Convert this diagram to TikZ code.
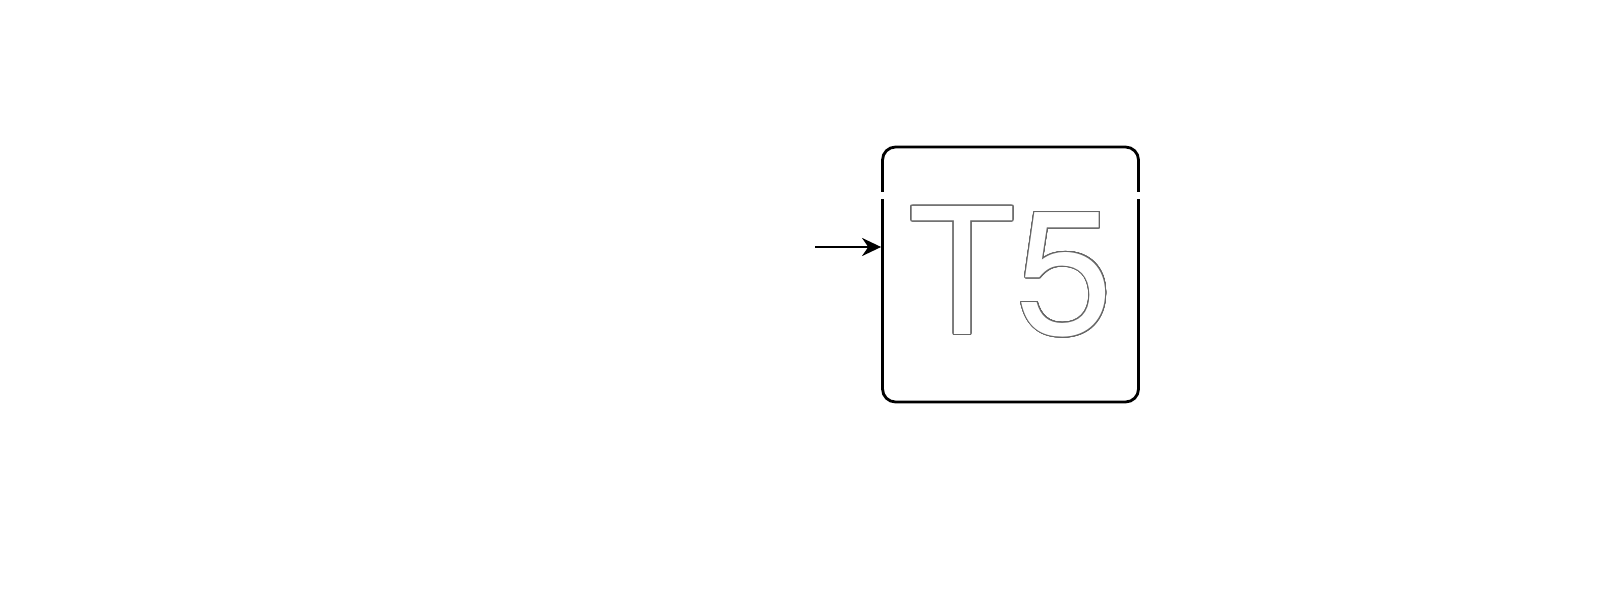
\documentclass[tikz,border=0pt]{standalone}
\usepackage{fontspec}
\setmainfont{TeX Gyre Heros}
\usepackage{contour}
\usepackage{tikz}
\usetikzlibrary{positioning,arrows,arrows.meta}
\contourlength{0.3pt}
\contournumber{32}
\tikzset{
        tbox/.style={draw=black, line width=0.8pt, rounded corners=0.13cm, fill=white, minimum width=2.56cm, minimum height=2.55cm, inner sep=0pt}, % the box round the label
        feed/.style={draw=black, line width=0.7pt, -{Stealth[length=0.19cm,width=0.18cm]}}, % the incoming arrow
}

\begin{document}
\begin{tikzpicture}
\useasboundingbox (0,0) rectangle (16,6);
\node[tbox] (t5) at (10.105,3.255) {};
\node at (10.11,3.28) {\fontsize{50}{50}\selectfont\contour{black!60}{\color{white}T5}};
\coordinate (src) at (8.15,3.53);
\draw[feed] (src) -- (src -| t5.west);
\coordinate (bandl) at (8.77,4.045);
\coordinate (bandr) at (11.43,4.045);
\draw[white, line width=2pt] (bandl) -- (bandr);
\end{tikzpicture}
\end{document}
